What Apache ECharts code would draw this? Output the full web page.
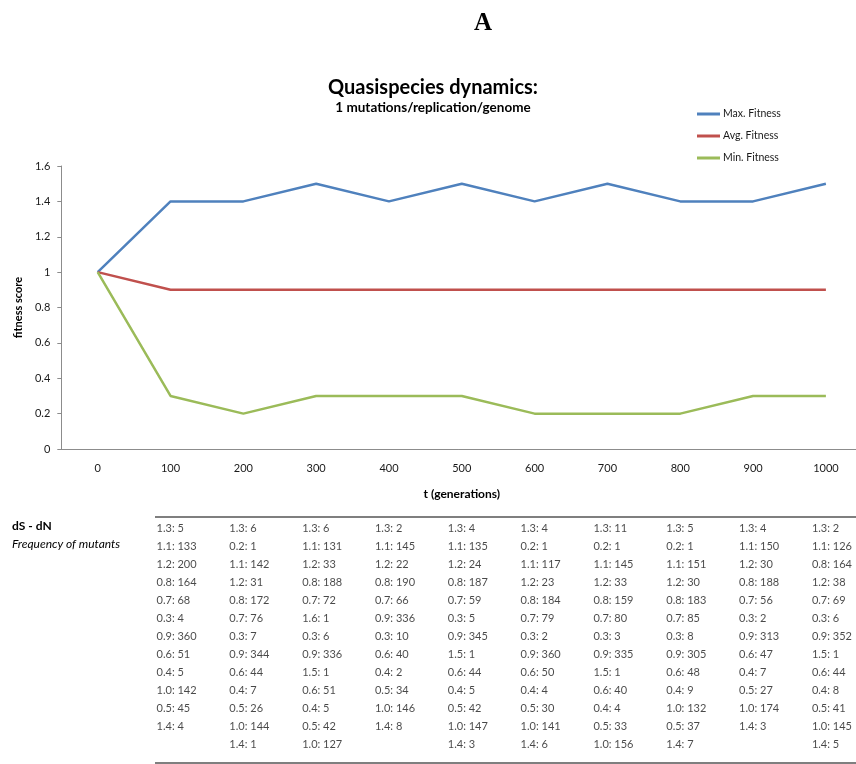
<!DOCTYPE html>
<html>
<head>
<meta charset="utf-8">
<style>
  html, body { margin: 0; padding: 0; background: #fff; }
  #chart { width: 856px; height: 764px; }
</style>
<script src="https://cdn.jsdelivr.net/npm/echarts@6/dist/echarts.min.js"></script>
</head>
<body>
<div id="chart"></div>
<script>
// Generations sampled along the run
const generations = ['0', '100', '200', '300', '400', '500', '600', '700', '800', '900', '1000'];

// Fitness of the population at each sampled generation
const maxFitness = [1, 1.4, 1.4, 1.5, 1.4, 1.5, 1.4, 1.5, 1.4, 1.4, 1.5];
const avgFitness = [1, 0.9, 0.9, 0.9, 0.9, 0.9, 0.9, 0.9, 0.9, 0.9, 0.9];
const minFitness = [1, 0.3, 0.2, 0.3, 0.3, 0.3, 0.2, 0.2, 0.2, 0.3, 0.3];

// dS - dN : frequency of mutants, one list per generation
const mutants100 = ['1.3: 5', '1.1: 133', '1.2: 200', '0.8: 164', '0.7: 68', '0.3: 4', '0.9: 360', '0.6: 51', '0.4: 5', '1.0: 142', '0.5: 45', '1.4: 4'];
const mutants200 = ['1.3: 6', '0.2: 1', '1.1: 142', '1.2: 31', '0.8: 172', '0.7: 76', '0.3: 7', '0.9: 344', '0.6: 44', '0.4: 7', '0.5: 26', '1.0: 144', '1.4: 1'];
const mutants300 = ['1.3: 6', '1.1: 131', '1.2: 33', '0.8: 188', '0.7: 72', '1.6: 1', '0.3: 6', '0.9: 336', '1.5: 1', '0.6: 51', '0.4: 5', '0.5: 42', '1.0: 127'];
const mutants400 = ['1.3: 2', '1.1: 145', '1.2: 22', '0.8: 190', '0.7: 66', '0.9: 336', '0.3: 10', '0.6: 40', '0.4: 2', '0.5: 34', '1.0: 146', '1.4: 8'];
const mutants500 = ['1.3: 4', '1.1: 135', '1.2: 24', '0.8: 187', '0.7: 59', '0.3: 5', '0.9: 345', '1.5: 1', '0.6: 44', '0.4: 5', '0.5: 42', '1.0: 147', '1.4: 3'];
const mutants600 = ['1.3: 4', '0.2: 1', '1.1: 117', '1.2: 23', '0.8: 184', '0.7: 79', '0.3: 2', '0.9: 360', '0.6: 50', '0.4: 4', '0.5: 30', '1.0: 141', '1.4: 6'];
const mutants700 = ['1.3: 11', '0.2: 1', '1.1: 145', '1.2: 33', '0.8: 159', '0.7: 80', '0.3: 3', '0.9: 335', '1.5: 1', '0.6: 40', '0.4: 4', '0.5: 33', '1.0: 156'];
const mutants800 = ['1.3: 5', '0.2: 1', '1.1: 151', '1.2: 30', '0.8: 183', '0.7: 85', '0.3: 8', '0.9: 305', '0.6: 48', '0.4: 9', '1.0: 132', '0.5: 37', '1.4: 7'];
const mutants900 = ['1.3: 4', '1.1: 150', '1.2: 30', '0.8: 188', '0.7: 56', '0.3: 2', '0.9: 313', '0.6: 47', '0.4: 7', '0.5: 27', '1.0: 174', '1.4: 3'];
const mutants1000 = ['1.3: 2', '1.1: 126', '0.8: 164', '1.2: 38', '0.7: 69', '0.3: 6', '0.9: 352', '1.5: 1', '0.6: 44', '0.4: 8', '0.5: 41', '1.0: 145', '1.4: 5'];

const mutantColumns = [
  ['100', mutants100], ['200', mutants200], ['300', mutants300], ['400', mutants400],
  ['500', mutants500], ['600', mutants600], ['700', mutants700], ['800', mutants800],
  ['900', mutants900], ['1000', mutants1000]
];

const tableRows = [];
for (let i = 0; i < 13; i++) tableRows.push(String(i));

const tableCells = [];
mutantColumns.forEach(([gen, list]) => {
  list.forEach((text, row) => {
    tableCells.push({ value: [gen, String(row)], text: text });
  });
});

const FONT = 'Lato, "Open Sans", "Noto Sans", sans-serif';
const AXIS_GREY = '#8c8c8c';
const TEXT = '#1a1a1a';

const chart = echarts.init(document.getElementById('chart'), null, { renderer: 'canvas' });

chart.setOption({
  animation: false,
  backgroundColor: '#fff',
  textStyle: { fontFamily: FONT },
  title: [
    {
      text: 'A',
      left: 478, top: 6, textAlign: 'center',
      textStyle: { fontFamily: '"Liberation Serif", "DejaVu Serif", serif', fontSize: 25, fontWeight: 'bold', color: '#000' }
    },
    {
      text: 'Quasispecies dynamics:',
      subtext: '1 mutations/replication/genome',
      left: 428, top: 73, textAlign: 'center', itemGap: 3,
      textStyle: { fontFamily: FONT, fontSize: 20, fontWeight: 'bold', color: '#000' },
      subtextStyle: { fontFamily: FONT, fontSize: 13.5, fontWeight: 'bold', color: '#000' }
    }
  ],
  legend: {
    orient: 'vertical',
    left: 692, top: 103,
    itemWidth: 23, itemHeight: 3, itemGap: 10,
    icon: 'rect',
    textStyle: { fontFamily: FONT, fontSize: 10.5, lineHeight: 12, color: TEXT, padding: [0, 0, 0, -2] },
    data: ['Max. Fitness', 'Avg. Fitness', 'Min. Fitness']
  },
  grid: [
    { left: 61.3, top: 166, width: 801, height: 283, outerBoundsMode: 'none' },
    { left: 61.3, top: 519, width: 801, height: 234, outerBoundsMode: 'none' }
  ],
  xAxis: [
    {
      type: 'category', gridIndex: 0, data: generations, boundaryGap: true,
      axisLine: { lineStyle: { color: AXIS_GREY, width: 1 } },
      axisTick: { show: false },
      axisLabel: { fontFamily: FONT, fontSize: 11, color: TEXT, margin: 14 },
      name: 't (generations)', nameLocation: 'middle', nameGap: 39,
      nameTextStyle: { fontFamily: FONT, fontSize: 12, fontWeight: 'bold', color: '#000' }
    },
    {
      type: 'category', gridIndex: 1, data: generations, boundaryGap: true, show: false
    }
  ],
  yAxis: [
    {
      type: 'value', gridIndex: 0, min: 0, max: 1.6, interval: 0.2,
      axisLine: { show: true, lineStyle: { color: AXIS_GREY, width: 1 } },
      axisTick: { show: true, length: 4, lineStyle: { color: AXIS_GREY } },
      splitLine: { show: false },
      axisLabel: { fontFamily: FONT, fontSize: 11, color: TEXT, margin: 11 },
      name: 'fitness score', nameLocation: 'middle', nameRotate: 90, nameGap: 36,
      nameTextStyle: { fontFamily: FONT, fontSize: 11, fontWeight: 'bold', color: '#000' }
    },
    {
      type: 'category', gridIndex: 1, data: tableRows, inverse: true, boundaryGap: true, show: false
    }
  ],
  graphic: [
    { type: 'line', shape: { x1: 155, y1: 517, x2: 856, y2: 517 }, style: { stroke: '#7f7f7f', lineWidth: 2 } },
    { type: 'line', shape: { x1: 155, y1: 763, x2: 856, y2: 763 }, style: { stroke: '#7f7f7f', lineWidth: 2 } },
    { type: 'text', left: 12, top: 520, style: { text: 'dS - dN', font: 'bold 12px ' + FONT, fill: '#000' } },
    { type: 'text', left: 12, top: 538, style: { text: 'Frequency of mutants', font: 'italic 12px ' + FONT, fill: '#000' } }
  ],
  series: [
    {
      name: 'Max. Fitness', type: 'line', xAxisIndex: 0, yAxisIndex: 0,
      data: maxFitness, symbol: 'none', color: '#4F81BD',
      lineStyle: { width: 2.5, color: '#4F81BD' }
    },
    {
      name: 'Avg. Fitness', type: 'line', xAxisIndex: 0, yAxisIndex: 0,
      data: avgFitness, symbol: 'none', color: '#C0504D',
      lineStyle: { width: 2.5, color: '#C0504D' }
    },
    {
      name: 'Min. Fitness', type: 'line', xAxisIndex: 0, yAxisIndex: 0,
      data: minFitness, symbol: 'none', color: '#9BBB59',
      lineStyle: { width: 2.5, color: '#9BBB59' }
    },
    {
      name: 'mutants', type: 'scatter', xAxisIndex: 1, yAxisIndex: 1,
      symbolSize: 1, itemStyle: { color: 'rgba(0,0,0,0)' },
      data: tableCells,
      label: {
        show: true, position: 'inside', align: 'left', verticalAlign: 'middle',
        offset: [-14, 0],
        fontFamily: FONT, fontSize: 11, color: TEXT,
        formatter: p => p.data.text
      },
      emphasis: { disabled: true }
    }
  ]
});
</script>
</body>
</html>
